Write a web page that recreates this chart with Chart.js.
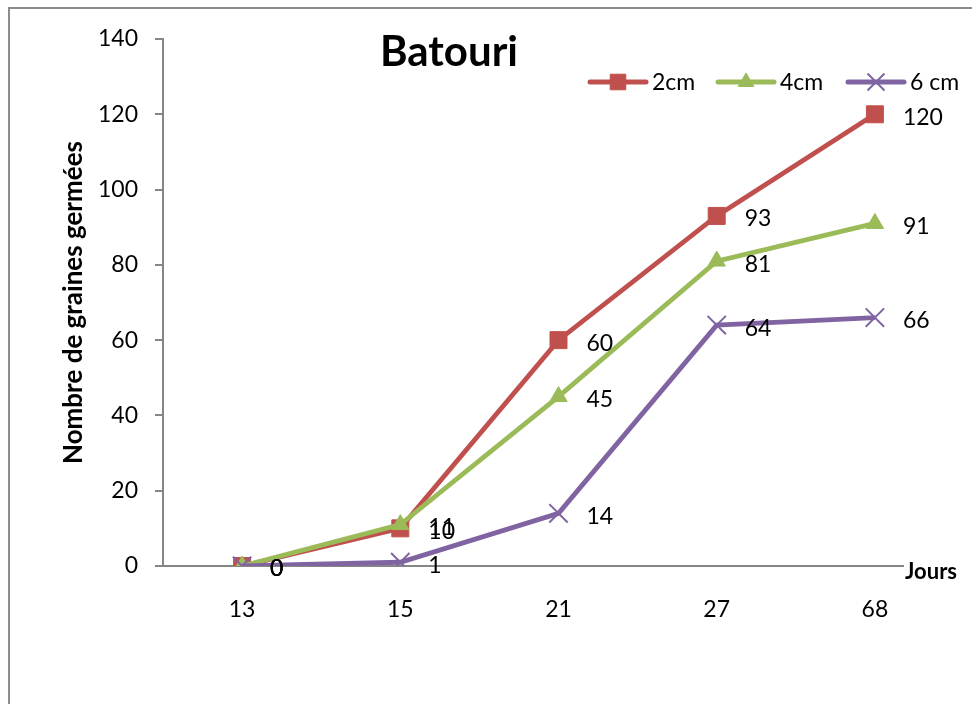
<!DOCTYPE html>
<html>
<head>
<meta charset="utf-8">
<title>Batouri</title>
<script src="https://cdn.jsdelivr.net/npm/chart.js@4.4.1/dist/chart.umd.min.js"></script>
<style>
  html, body { margin: 0; padding: 0; background: #ffffff; }
  #wrap { width: 972px; height: 704px; position: relative; }
</style>
</head>
<body>
<div id="wrap"><canvas id="chart" width="972" height="704"></canvas></div>
<script>
// Germination counts at Batouri by sowing depth
const jours = ['13', '15', '21', '27', '68'];
const serie2cm = [0, 10, 60, 93, 120];
const serie4cm = [0, 11, 45, 81, 91];
const serie6cm = [0, 1, 14, 64, 66];
const nomsSeries = ['2cm', '4cm', '6 cm'];
const yTicks = [0, 20, 40, 60, 80, 100, 120, 140];

const ROUGE = '#C0504D';
const VERT = '#9BBB59';
const VIOLET = '#8064A2';
const GRIS = '#868686';
const FONT = 'Lato, "Open Sans", sans-serif';
const TAILLE = 23;

// Outer frame of the chart object
const cadre = {
  id: 'cadre',
  beforeDraw(chart) {
    const ctx = chart.ctx;
    ctx.save();
    ctx.fillStyle = '#ffffff';
    ctx.fillRect(0, 0, chart.width, chart.height);
    ctx.strokeStyle = '#8c8c8c';
    ctx.lineWidth = 2;
    ctx.strokeRect(9, 8, 1100, 1100);
    ctx.restore();
  }
};

// Value labels to the right of each point
const etiquettes = {
  id: 'etiquettes',
  afterDatasetsDraw(chart) {
    const ctx = chart.ctx;
    ctx.save();
    ctx.font = TAILLE + 'px ' + FONT;
    ctx.fillStyle = '#000000';
    ctx.textAlign = 'left';
    ctx.textBaseline = 'middle';
    chart.data.datasets.forEach((ds, i) => {
      const meta = chart.getDatasetMeta(i);
      meta.data.forEach((pt, j) => {
        ctx.fillText(String(ds.data[j]), pt.x + 28, pt.y + 3);
      });
    });
    ctx.restore();
  }
};

// Title, legend and the "Jours" axis caption
const habillage = {
  id: 'habillage',
  afterDraw(chart) {
    const ctx = chart.ctx;
    ctx.save();
    ctx.fillStyle = '#000000';
    ctx.font = 'bold 42px ' + FONT;
    ctx.textAlign = 'center';
    ctx.textBaseline = 'middle';
    ctx.fillText('Batouri', 449, 52);

    // "Jours" caption with its own white box over the axis end
    ctx.font = 'bold 22px ' + FONT;
    ctx.textAlign = 'left';
    const wJ = ctx.measureText('Jours').width;
    ctx.fillStyle = '#ffffff';
    ctx.fillRect(904, 560, wJ + 4, 22);
    ctx.fillStyle = '#000000';
    ctx.fillText('Jours', 905, 572);

    // Legend
    const items = [
      { x: 590, ds: chart.data.datasets[0] },
      { x: 718, ds: chart.data.datasets[1] },
      { x: 848, ds: chart.data.datasets[2] }
    ];
    const ly = 82;
    items.forEach(it => {
      const ds = it.ds;
      ctx.strokeStyle = ds.borderColor;
      ctx.lineWidth = 5;
      ctx.lineCap = 'round';
      ctx.beginPath();
      ctx.moveTo(it.x, ly);
      ctx.lineTo(it.x + 56, ly);
      ctx.stroke();
      ctx.fillStyle = ds.pointBackgroundColor;
      ctx.strokeStyle = ds.pointBorderColor;
      ctx.lineWidth = ds.pointBorderWidth;
      ctx.lineCap = 'butt';
      Chart.helpers.drawPoint(ctx, {
        pointStyle: ds.pointStyle,
        radius: ds.pointRadius - 1,
        borderWidth: ds.pointBorderWidth
      }, it.x + 28, ly);
      ctx.fillStyle = '#000000';
      ctx.font = TAILLE + 'px ' + FONT;
      ctx.textAlign = 'left';
      ctx.textBaseline = 'middle';
      ctx.fillText(ds.label, it.x + 62, ly + 1);
    });
    ctx.restore();
  }
};

function dataset(label, data, color, style, radius, bw, order) {
  return {
    label: label,
    data: data,
    borderColor: color,
    backgroundColor: color,
    borderWidth: 4.8,
    pointStyle: style,
    pointRadius: radius,
    pointHoverRadius: radius,
    pointBackgroundColor: color,
    pointBorderColor: color,
    pointBorderWidth: bw,
    tension: 0,
    order: order
  };
}

new Chart(document.getElementById('chart'), {
  type: 'line',
  data: {
    labels: jours,
    datasets: [
      dataset(nomsSeries[0], serie2cm, ROUGE, 'rect', 12, 1, 2),
      dataset(nomsSeries[1], serie4cm, VERT, 'triangle', 10, 1, 1),
      dataset(nomsSeries[2], serie6cm, VIOLET, 'crossRot', 13, 2, 0)
    ]
  },
  options: {
    responsive: false,
    animation: false,
    events: [],
    layout: { padding: { top: 39, right: 18, bottom: 0, left: 0 } },
    plugins: {
      legend: { display: false },
      title: { display: false },
      tooltip: { enabled: false }
    },
    scales: {
      x: {
        type: 'category',
        offset: true,
        grid: { display: false },
        border: { display: true, color: GRIS, width: 2 },
        ticks: { color: '#000000', font: { family: FONT, size: TAILLE }, padding: 22, maxRotation: 0 },
        afterFit(scale) { scale.height = 138; }
      },
      y: {
        min: 0,
        max: 140,
        afterBuildTicks(scale) { scale.ticks = yTicks.map(v => ({ value: v })); },
        grid: { display: true, drawOnChartArea: false, drawTicks: true, tickLength: 8, color: GRIS, lineWidth: 2 },
        border: { display: true, color: GRIS, width: 2 },
        ticks: { color: '#000000', font: { family: FONT, size: TAILLE }, padding: 17 },
        title: {
          display: true,
          text: 'Nombre de graines germées',
          color: '#000000',
          font: { family: FONT, size: 26, weight: 'bold' },
          padding: { top: 58, bottom: 0 }
        },
        afterFit(scale) { scale.width = 163; }
      }
    }
  },
  plugins: [cadre, etiquettes, habillage]
});
</script>
</body>
</html>
